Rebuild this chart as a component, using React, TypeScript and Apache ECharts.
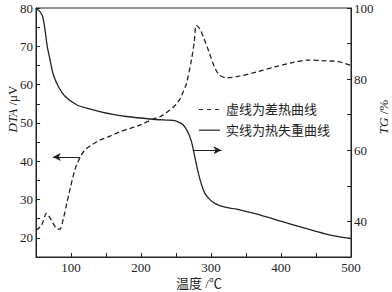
import React, { useEffect, useRef } from "react";
import * as echarts from "echarts";

// DTA curve (dashed, left axis, μV)
const dtaTemp = [50, 58, 65, 72, 79, 84, 89, 94, 99, 106, 113, 120, 130, 141, 155, 170, 185, 198, 217, 227, 241, 250, 255, 260, 265, 272, 276, 279, 284, 289, 298, 305, 312, 322, 341, 365, 391, 415, 439, 463, 482, 500];
const dtaValue = [22, 23.3, 26.4, 24.6, 22.5, 22.2, 25, 29, 33, 38, 41, 43, 44.3, 45.5, 46.5, 47.7, 48.6, 49.4, 51.0, 51.6, 53.3, 54.8, 56, 58, 60.3, 66.4, 71, 75.5, 74.5, 72.5, 68.1, 64.6, 62.5, 61.8, 62.2, 63.3, 64.6, 65.7, 66.4, 66.2, 66, 65];

// TG curve (solid, right axis, %)
const tgTemp = [50, 54, 57, 59.5, 62.8, 66, 70, 74.7, 81.8, 91.4, 108, 125, 141, 160, 179, 213, 235, 246, 253, 260, 266, 272, 277, 282, 287, 291.5, 298, 306, 320, 335, 348.5, 372, 401, 429, 463, 480, 500];
const tgValue = [99.8, 99.3, 98.6, 97.6, 94, 89.3, 85.5, 81.3, 78, 75.2, 72.8, 71.7, 70.9, 70.1, 69.5, 68.8, 68.5, 68.4, 68, 67.2, 65.5, 62.5, 58, 53.5, 50, 47.8, 46.2, 45, 44, 43.5, 42.9, 41.7, 40, 38.4, 36.5, 35.8, 35.2];

// arrows: [fromTemp, toTemp, value]
const dtaArrow = [113, 74, 41.1];
const tgArrow = [274, 315, 60];

const seriesNames = ["虚线为差热曲线", "实线为热失重曲线"];
const xName = "温度 /℃";
const leftName = "{i|DTA} /μV";
const rightName = "{i|TG} /%";

const INK = "#222";
const SERIF = "'Liberation Serif', 'Times New Roman', serif";
const CJK = "'Liberation Serif', 'Noto Sans CJK SC', serif";

export default function App() {
  const ref = useRef<HTMLDivElement>(null);
  useEffect(() => {
    document.body.style.margin = "0";
    const chart = echarts.init(ref.current!, null, { renderer: "svg" });
    const axisCommon = {
      axisLine: { show: true, lineStyle: { color: INK, width: 1 } },
      axisTick: { show: true, inside: true, length: 4, lineStyle: { color: INK } },
      splitLine: { show: false },
    };
    const legendRows = seriesNames.map((name, i) => ({
      type: "group",
      x: 199,
      y: 109.5 + i * 20.7,
      children: [
        {
          type: "line",
          shape: { x1: 0, y1: 0, x2: 21, y2: 0 },
          style: { stroke: INK, lineWidth: 1.2, lineDash: i === 0 ? [4, 4] : null },
        },
        {
          type: "text",
          x: 27,
          y: 0,
          style: {
            text: name, fill: INK, fontFamily: CJK, fontSize: 13,
            align: "left", verticalAlign: "middle",
          },
        },
      ],
    }));
    chart.setOption({
      animation: false,
      backgroundColor: "#fff",
      grid: {
        left: 36, right: 41, top: 8, bottom: 35,
        show: true, borderColor: INK, borderWidth: 1,
        outerBoundsMode: "none",
      },
      xAxis: {
        type: "value", min: 50, max: 500, interval: 50,
        ...axisCommon,
        axisLabel: {
          margin: 4, color: INK, fontFamily: SERIF, fontSize: 13,
          formatter: (v: number) => (v % 100 === 0 ? String(v) : ""),
        },
      },
      yAxis: [
        {
          type: "value", position: "left", min: 15, max: 80, interval: 5,
          ...axisCommon,
          axisLabel: {
            margin: 3, color: INK, fontFamily: SERIF, fontSize: 13,
            formatter: (v: number) => (v % 10 === 0 ? String(v) : ""),
          },
        },
        {
          type: "value", position: "right", min: 30, max: 100, interval: 10,
          ...axisCommon,
          axisLabel: {
            margin: 3, color: INK, fontFamily: SERIF, fontSize: 13,
            formatter: (v: number) => (v % 20 === 0 && v >= 40 ? String(v) : ""),
          },
        },
      ],
      graphic: [
        {
          type: "text", x: 12, y: 109, rotation: Math.PI / 2,
          style: {
            text: leftName, fill: INK, fontFamily: SERIF, fontSize: 13,
            align: "center", verticalAlign: "middle",
            rich: { i: { fontStyle: "italic", fontFamily: SERIF, fontSize: 13, fill: INK } },
          },
        },
        {
          type: "text", x: 383, y: 117, rotation: Math.PI / 2,
          style: {
            text: rightName, fill: INK, fontFamily: SERIF, fontSize: 13,
            align: "center", verticalAlign: "middle",
            rich: { i: { fontStyle: "italic", fontFamily: SERIF, fontSize: 13, fill: INK } },
          },
        },
        {
          type: "text", x: 199, y: 283,
          style: {
            text: xName, fill: INK, fontFamily: CJK, fontSize: 13,
            align: "center", verticalAlign: "middle",
          },
        },
        ...legendRows,
      ],
      series: [
        {
          name: seriesNames[0], type: "line", yAxisIndex: 0,
          data: dtaTemp.map((t, i) => [t, dtaValue[i]]),
          symbol: "none", smooth: 0.3,
          lineStyle: { color: INK, width: 1.3, type: [5, 3] },
          itemStyle: { color: INK },
          markLine: {
            silent: true, symbol: ["none", "arrow"], symbolSize: [6, 8],
            label: { show: false },
            lineStyle: { color: INK, width: 1, type: "solid" },
            data: [[{ coord: [dtaArrow[0], dtaArrow[2]] }, { coord: [dtaArrow[1], dtaArrow[2]] }]],
          },
        },
        {
          name: seriesNames[1], type: "line", yAxisIndex: 1,
          data: tgTemp.map((t, i) => [t, tgValue[i]]),
          symbol: "none", smooth: 0.3,
          lineStyle: { color: INK, width: 1.3, type: "solid" },
          itemStyle: { color: INK },
          markLine: {
            silent: true, symbol: ["none", "arrow"], symbolSize: [6, 8],
            label: { show: false },
            lineStyle: { color: INK, width: 1, type: "solid" },
            data: [[{ coord: [tgArrow[0], tgArrow[2]] }, { coord: [tgArrow[1], tgArrow[2]] }]],
          },
        },
      ],
    });
    return () => chart.dispose();
  }, []);
  return <div ref={ref} style={{ width: 392, height: 292 }} />;
}
